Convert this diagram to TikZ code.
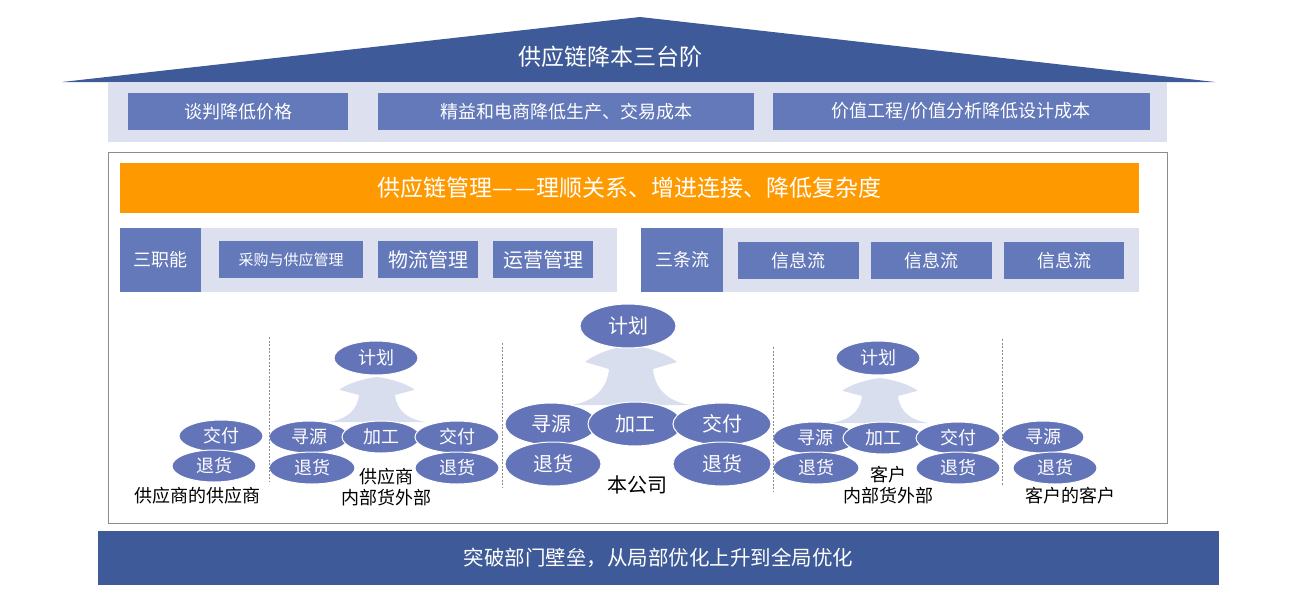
\documentclass[tikz,border=0pt]{standalone}
\usepackage{fontspec}
\setmainfont{Noto Sans CJK SC}
\usetikzlibrary{shapes.geometric}
\definecolor{roofblue}{HTML}{3F5A98}
\definecolor{bandcol}{HTML}{DCE0EF}
\definecolor{boxblue}{HTML}{6479BA}
\definecolor{ellblue}{HTML}{6474B8}
\definecolor{orangebar}{HTML}{FF9900}
\definecolor{arrowfill}{HTML}{D9DEEE}
\definecolor{framegray}{HTML}{8C8C8C}
\newcommand\myfs[1]{\fontsize{#1}{#1}\selectfont}
\tikzset{
  band/.style={fill=bandcol, inner sep=0pt},
  box/.style={fill=boxblue, text=white, inner sep=0pt, font=\myfs{18}},
  darkbox/.style={fill=roofblue, text=white, inner sep=0pt},
  ell/.style={ellipse, fill=ellblue, draw=white, line width=1pt, text=white, inner sep=0pt, font=\myfs{18}},
  bigell/.style={ell, font=\myfs{20}},
  lbl/.style={text=black, inner sep=0pt, align=center, font=\fontsize{18}{21}\selectfont},
  divider/.style={draw=framegray, line width=0.7pt, dash pattern=on 2pt off 1.5pt},
  uparrow/.style={fill=arrowfill, draw=none},
}
\newcommand\uparrowpath{(-60,0) .. controls (-38,-3) and (-24,-15) .. (-22,-36) -- (-46,-43) .. controls (-35,-52) and (-15,-58) .. (0,-60) .. controls (15,-58) and (35,-52) .. (46,-43) -- (22,-36) .. controls (24,-15) and (38,-3) .. (60,0) -- cycle}
\begin{document}
\begin{tikzpicture}[x=1pt,y=-1pt]
\path[use as bounding box] (0,0) rectangle (1300,610);
% roof
\coordinate (roofL) at (62,82);
\coordinate (roofT) at (640,17);
\coordinate (roofR) at (1215,82);
\fill[roofblue] (roofL) -- (roofT) -- (roofR) -- cycle;
\node[text=white, font=\myfs{23}] (title) at (610,57) {供应链降本三台阶};
% top band
\node[band, minimum width=1059pt, minimum height=60pt] (topband) at (637.5,112) {};
\node[box, minimum width=220pt, minimum height=37pt] (ta) at (238,111.5) {谈判降低价格};
\node[box, minimum width=376pt, minimum height=37pt] (tb) at (566,111.5) {精益和电商降低生产、交易成本};
\node[box, minimum width=377pt, minimum height=37pt] (tc) at (961,111.5) {价值工程/价值分析降低设计成本};
% frame
\node[draw=framegray, line width=0.8pt, minimum width=1059pt, minimum height=371pt, inner sep=0pt] (frame) at (637.5,337.5) {};
% orange bar
\node[fill=orangebar, text=white, minimum width=1019pt, minimum height=50pt, inner sep=0pt, font=\myfs{23}] (scm) at (629.5,188) {供应链管理—\hspace{3pt}—理顺关系、增进连接、降低复杂度};
% left band
\node[band, minimum width=497pt, minimum height=64pt] (lband) at (368.5,260) {};
\node[box, minimum width=81pt, minimum height=64pt] (sanzhi) at (160.5,260) {三职能};
\node[box, minimum width=144pt, minimum height=37pt, font=\myfs{15}] (caigou) at (291,259.5) {采购与供应管理};
\node[box, minimum width=100pt, minimum height=37pt, font=\myfs{20}] (wuliu) at (428,259.5) {物流管理};
\node[box, minimum width=100pt, minimum height=37pt, font=\myfs{20}] (yunying) at (543,259.5) {运营管理};
% right band
\node[band, minimum width=498pt, minimum height=64pt] (rband) at (890,260) {};
\node[box, minimum width=82pt, minimum height=64pt] (santiao) at (682,260) {三条流};
\node[box, minimum width=121pt, minimum height=37pt] (xx1) at (798.5,260.5) {信息流};
\node[box, minimum width=121pt, minimum height=37pt] (xx2) at (931.5,260.5) {信息流};
\node[box, minimum width=120pt, minimum height=37pt] (xx3) at (1064,260.5) {信息流};
% up arrows
\fill[uparrow, shift={(631,405)}] \uparrowpath;
\fill[uparrow, shift={(377,422)}, xscale=0.82, yscale=0.75] \uparrowpath;
\fill[uparrow, shift={(880,423)}, xscale=0.82, yscale=0.75] \uparrowpath;
% group 1
\node[ell, minimum width=84pt, minimum height=32pt] (g1d) at (221,436) {交付};
\node[ell, minimum width=84pt, minimum height=32pt] (g1r) at (214,466) {退货};
% group 2
\node[ell, minimum width=84pt, minimum height=34pt] (g2p) at (376,358) {计划};
\node[ell, minimum width=80pt, minimum height=32pt] (g2s) at (309,437) {寻源};
\node[ell, minimum width=78pt, minimum height=32pt] (g2m) at (381,437) {加工};
\node[ell, minimum width=84pt, minimum height=32pt] (g2d) at (457,437) {交付};
\node[ell, minimum width=86pt, minimum height=32pt] (g2r1) at (312,468) {退货};
\node[ell, minimum width=84pt, minimum height=32pt] (g2r2) at (457,468) {退货};
% group 3
\node[bigell, minimum width=96pt, minimum height=44pt] (g3p) at (628,326) {计划};
\node[bigell, minimum width=92pt, minimum height=42pt] (g3s) at (551,424) {寻源};
\node[bigell, minimum width=94pt, minimum height=44pt] (g3m) at (635,424) {加工};
\node[bigell, minimum width=98pt, minimum height=42pt] (g3d) at (722,424) {交付};
\node[bigell, minimum width=96pt, minimum height=44pt] (g3r1) at (553,464) {退货};
\node[bigell, minimum width=98pt, minimum height=44pt] (g3r2) at (722,464) {退货};
% group 4
\node[ell, minimum width=84pt, minimum height=34pt] (g4p) at (878,358) {计划};
\node[ell, minimum width=84pt, minimum height=32pt] (g4s) at (815,438) {寻源};
\node[ell, minimum width=80pt, minimum height=32pt] (g4m) at (883,438) {加工};
\node[ell, minimum width=84pt, minimum height=32pt] (g4d) at (958,438) {交付};
\node[ell, minimum width=86pt, minimum height=32pt] (g4r1) at (816,468) {退货};
\node[ell, minimum width=84pt, minimum height=32pt] (g4r2) at (958,468) {退货};
% group 5
\node[ell, minimum width=82pt, minimum height=32pt] (g5s) at (1043,437) {寻源};
\node[ell, minimum width=84pt, minimum height=32pt] (g5r) at (1055,468) {退货};
% labels
\node[lbl] (l1) at (197,496) {供应商的供应商};
\node[lbl] (l2) at (386,487) {供应商\\内部货外部};
\node[lbl, font=\myfs{20}] (l3) at (637,485) {本公司};
\node[lbl] (l4) at (888,485) {客户\\内部货外部};
\node[lbl] (l5) at (1070,496) {客户的客户};
% dividers
\coordinate (d1a) at (269,337); \coordinate (d1b) at (269,482);
\coordinate (d2a) at (502,343); \coordinate (d2b) at (502,488);
\coordinate (d3a) at (773,347); \coordinate (d3b) at (773,492);
\coordinate (d4a) at (1002,339); \coordinate (d4b) at (1002,485);
\draw[divider] (d1a) -- (d1b);
\draw[divider] (d2a) -- (d2b);
\draw[divider] (d3a) -- (d3b);
\draw[divider] (d4a) -- (d4b);
% bottom bar
\node[darkbox, minimum width=1121pt, minimum height=54pt, font=\myfs{20.5}] (bottom) at (658.5,558) {突破部门壁垒，从局部优化上升到全局优化};
\end{tikzpicture}
\end{document}
